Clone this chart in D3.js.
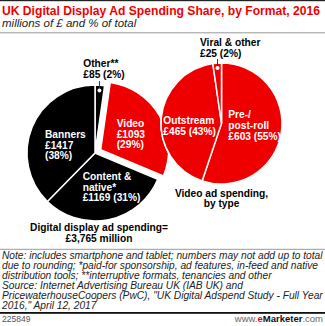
<!DOCTYPE html>
<html><head><meta charset="utf-8">
<script src="https://cdn.jsdelivr.net/npm/d3@7"></script>
<style>
html,body{margin:0;padding:0;background:#fff;}
svg{display:block;font-family:"Liberation Sans",Arial,sans-serif;}
</style></head>
<body>
<script>
// ---- data ----
const formatNames = ["Other**", "Video", "Content & native*", "Banners"];
const formatValues = [85, 1093, 1169, 1417];
const formatPct = [2, 29, 31, 38];
const videoNames = ["Pre-/post-roll", "Outstream", "Viral & other"];
const videoValues = [603, 465, 25];
const videoPct = [55, 43, 2];
const totalSpend = "£3,765 million";

const RED = "#ee0000";
const W = 325, H = 326;
const svg = d3.select("body").append("svg").attr("width", W).attr("height", H);

// header
svg.append("rect").attr("x",0).attr("y",0).attr("width",W).attr("height",1.2).attr("fill","#222");
svg.append("text").attr("x",2).attr("y",15).attr("fill",RED).attr("font-weight","bold")
  .attr("font-size",12).attr("textLength",318).attr("lengthAdjust","spacingAndGlyphs")
  .text("UK Digital Display Ad Spending Share, by Format, 2016");
svg.append("text").attr("x",2).attr("y",27.3).attr("fill","#222").attr("font-style","italic")
  .attr("font-size",11.5).text("millions of £ and % of total");
svg.append("rect").attr("x",0).attr("y",32.3).attr("width",W).attr("height",1).attr("fill","#999");

// left pie
const cxL = 95, cyL = 153, rL = 68;
const pie = d3.pie().sort(null).value(d => d);
const arcsL = pie(formatValues);
const arcL = d3.arc().innerRadius(0).outerRadius(rL);
const gL = svg.append("g").attr("transform", `translate(${cxL},${cyL})`);
gL.selectAll("path").data(arcsL).join("path")
  .attr("d", arcL)
  .attr("fill", (d,i) => i === 1 ? RED : "#000")
  .attr("stroke", "#fff").attr("stroke-width", 1.5)
  .attr("transform", (d,i) => {
    if (i !== 1) return null;
    const a = (d.startAngle + d.endAngle) / 2, off = 6.5;
    return `translate(${off*Math.sin(a)},${-off*Math.cos(a)})`;
  });

// right pie
const cxR = 221.5, cyR = 123.5, rR = 60.5;
const arcsR = pie(videoValues);
const arcR = d3.arc().innerRadius(0).outerRadius(rR);
const gR = svg.append("g").attr("transform", `translate(${cxR},${cyR})`);
gR.append("circle").attr("r", rR + 0.8).attr("fill", "#fff");
gR.selectAll("path").data(arcsR).join("path")
  .attr("d", arcR).attr("fill", RED)
  .attr("stroke", "#fff").attr("stroke-width", 1.5);

// leader dots
function leader(g, arcD, r, yTop) {
  const a = (arcD.startAngle + arcD.endAngle) / 2;
  const x = r * 0.92 * Math.sin(a), y = -r * 0.92 * Math.cos(a);
  g.append("line").attr("x1", x).attr("x2", x).attr("y1", yTop).attr("y2", y)
    .attr("stroke", "#333").attr("stroke-width", 1);
  g.append("circle").attr("cx", x).attr("cy", y).attr("r", 2).attr("fill", "#fff");
}
leader(gL, arcsL[0], rL, 81 - cyL);
leader(gR, arcsR[2], rR, 59 - cyR);

// labels
function label(lines, x, y, color, anchor, lh) {
  const t = svg.append("text").attr("x", x).attr("y", y).attr("fill", color)
    .attr("font-weight", "bold").attr("font-size", 10.2).attr("text-anchor", anchor || "start");
  lines.forEach((s, i) => t.append("tspan").attr("x", x).attr("y", y + i * (lh || 10.7)).text(s));
}
const money = v => "£" + v;
label(["Banners", money(formatValues[3]), `(${formatPct[3]}%)`], 45, 138, "#fff");
label([formatNames[1], money(formatValues[1]), `(${formatPct[1]}%)`], 116.7, 127, "#fff");
label(["Content &", "native*", `${money(formatValues[2])} (${formatPct[2]}%)`], 82.7, 180, "#fff");
label([formatNames[0], `${money(formatValues[0])} (${formatPct[0]}%)`], 83.3, 67.3, "#000");
label([videoNames[2], `${money(videoValues[2])} (${videoPct[2]}%)`], 200, 46, "#000", "start", 10.6);
label(["Pre-/", "post-roll", `${money(videoValues[0])} (${videoPct[0]}%)`], 228.3, 118.3, "#fff", "start", 11);
label([videoNames[1], `${money(videoValues[1])} (${videoPct[1]}%)`], 163.3, 124, "#fff", "start", 10.5);
label(["Video ad spending,", "by type"], 221.5, 196.5, "#000", "middle", 10.5);
label(["Digital display ad spending=", totalSpend], 99, 230.5, "#000", "middle", 11);

// footer
svg.append("rect").attr("x",0).attr("y",248.8).attr("width",W).attr("height",1).attr("fill","#999");
const notes = [
  "Note: includes smartphone and tablet; numbers may not add up to total",
  "due to rounding; *paid-for sponsorship, ad features, in-feed and native",
  "distribution tools; **interruptive formats, tenancies and other",
  "Source: Internet Advertising Bureau UK (IAB UK) and",
  "PricewaterhouseCoopers (PwC), \"UK Digital Adspend Study - Full Year",
  "2016,\" April 12, 2017"
];
const nt = svg.append("text").attr("font-style","italic").attr("font-size",10.2).attr("fill","#222");
notes.forEach((s,i) => nt.append("tspan").attr("x",2).attr("y",258.8 + i*10.1).text(s));
svg.append("rect").attr("x",0).attr("y",312).attr("width",W).attr("height",1.8).attr("fill","#111");
svg.append("text").attr("x",2).attr("y",322).attr("font-size",8.5).attr("fill","#555").text("225849");
const ft = svg.append("text").attr("x",323).attr("y",322).attr("font-size",9.5).attr("text-anchor","end").attr("fill","#666");
ft.append("tspan").text("www.");
ft.append("tspan").attr("fill",RED).attr("font-weight","bold").text("e");
ft.append("tspan").attr("fill","#111").attr("font-weight","bold").text("Marketer");
ft.append("tspan").text(".com");
</script>
</body></html>
